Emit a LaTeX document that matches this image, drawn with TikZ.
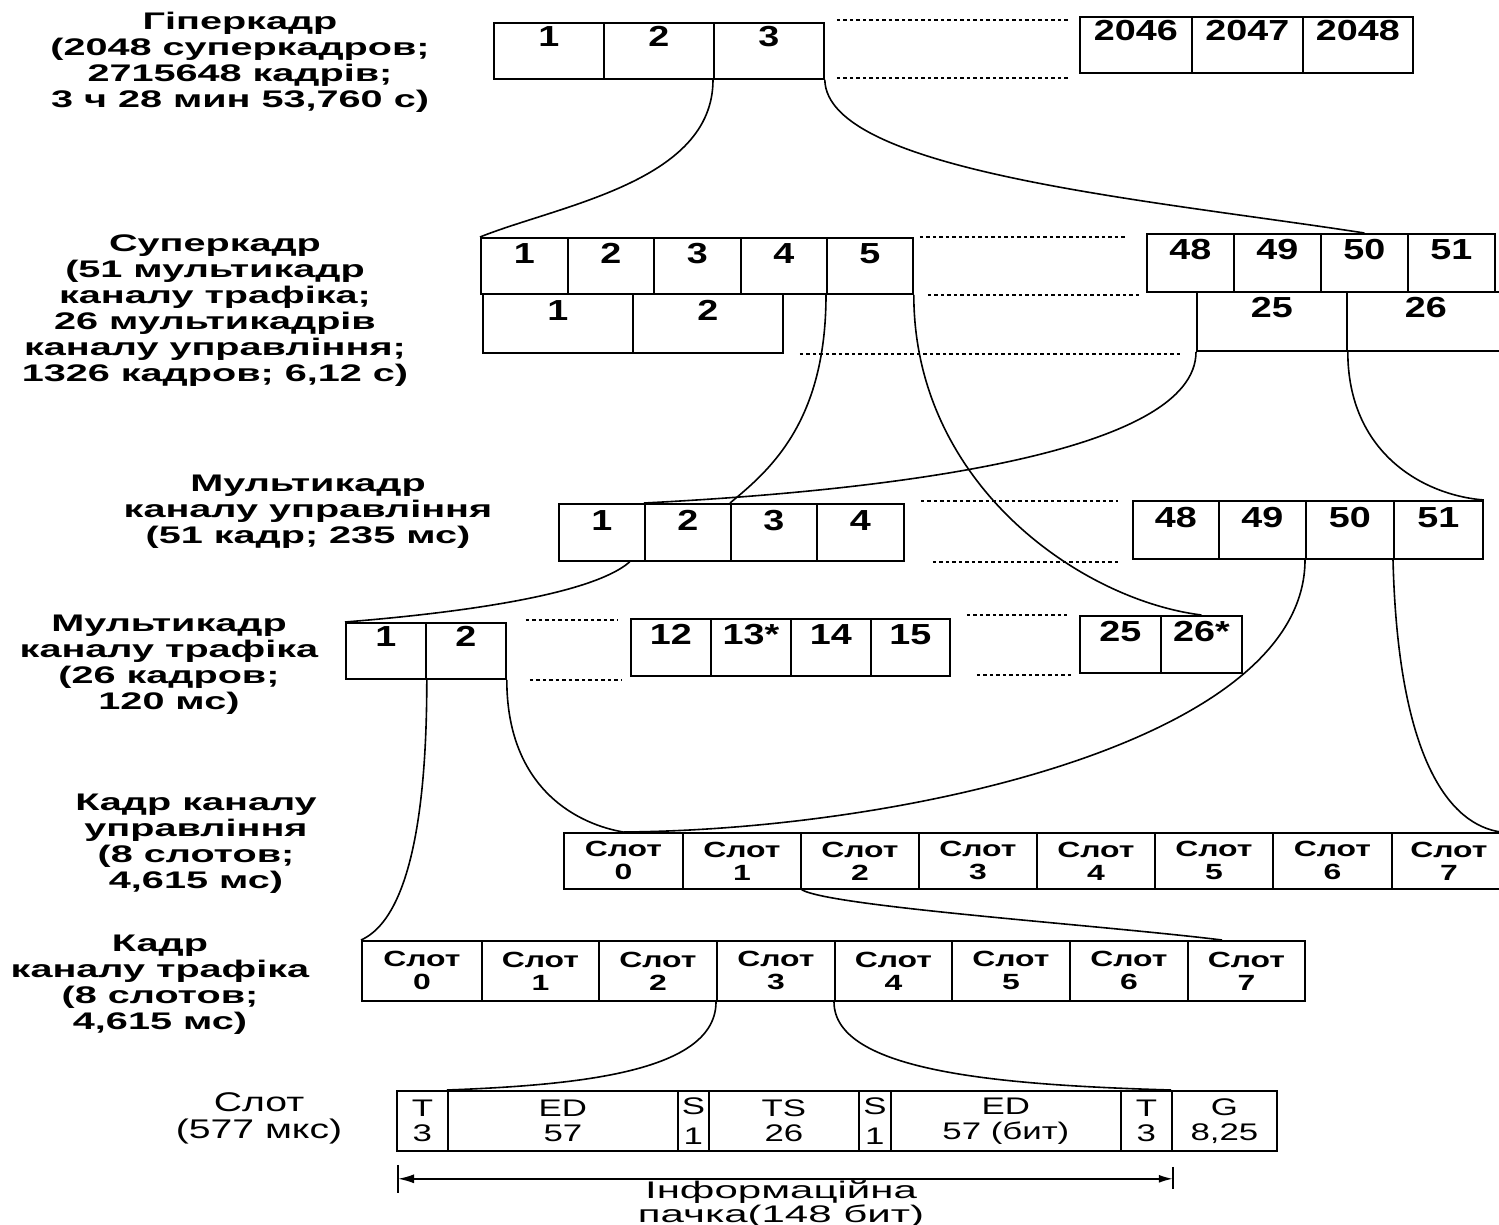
\documentclass[tikz,border=0pt]{standalone}
\usepackage{fontspec}
\setmainfont{Liberation Sans}
\newfontfamily\widebold[FakeStretch=1.65]{Liberation Sans Bold}
\newfontfamily\digbold[FakeStretch=1.3]{Liberation Sans Bold}
\newfontfamily\slotbold[FakeStretch=1.45]{Liberation Sans Bold}
\newfontfamily\fieldreg[FakeStretch=1.45]{Liberation Sans}
\newfontfamily\labreg[FakeStretch=1.45]{Liberation Sans}
\newfontfamily\inforeg[FakeStretch=1.75]{Liberation Sans}
\usetikzlibrary{calc,arrows.meta}
\begin{document}
\begin{tikzpicture}[x=1pt,y=-1pt,
  lbl/.style={align=center, font=\widebold\fontsize{24}{26}\selectfont, inner sep=0pt},
  nlbl/.style={align=center, font=\labreg\fontsize{27}{27}\selectfont, inner sep=0pt},
  ilbl/.style={align=center, font=\inforeg\fontsize{24}{24}\selectfont, inner sep=0pt},
  cell/.style={draw, line width=1.8pt, inner sep=0pt, anchor=north west,
    font=\digbold\fontsize{29}{29}\selectfont, text height=16pt},
  slotc/.style={draw, line width=1.8pt, inner sep=0pt, anchor=north west, align=center,
    font=\slotbold\fontsize{22}{23}\selectfont},
  fieldc/.style={draw, line width=1.8pt, inner sep=0pt, anchor=north west, align=center,
    font=\fieldreg\fontsize{24}{25}\selectfont},
  dots/.style={line width=2.4pt, dash pattern=on 3.5pt off 3pt},
  conn/.style={line width=1.6pt},
]
\useasboundingbox (0,0) rectangle (1499,1225);
\fill[white] (0,0) rectangle (1499,1225);

% ---------- labels ----------
\node[lbl] (Lh) at (240,62) {Гіперкадр\\(2048 суперкадров;\\2715648 кадрів;\\3 ч 28 мин 53,760 с)};
\node[lbl] (Ls) at (215,311) {Суперкадр\\(51 мультикадр\\каналу трафіка;\\26 мультикадрів\\каналу управління;\\1326 кадров; 6,12 с)};
\node[lbl] (Lcm) at (308,512) {Мультикадр\\каналу управління\\(51 кадр; 235 мс)};
\node[lbl] (Ltm) at (169,665) {Мультикадр\\каналу трафіка\\(26 кадров;\\120 мс)};
\node[lbl] (Lcf) at (196,844) {Кадр каналу\\управління\\(8 слотов;\\4,615 мс)};
\node[lbl] (Ltf) at (160,985) {Кадр\\каналу трафіка\\(8 слотов;\\4,615 мс)};
\node[nlbl] (Lsl) at (259,1118) {Слот\\(577 мкс)};
\node[ilbl, anchor=north] (Linfo) at (781,1180) {Інформаційна\\пачка(148 бит)};

% ---------- hyperframe ----------
\foreach \xa/\xb/\lab/\nm in {493/603/1/h1,603/713/2/h2,713/823/3/h3}
  \node[cell, minimum width={\xb-\xa}, minimum height=56, text depth=24pt] (\nm) at (\xa,22) {\lab};
\foreach \xa/\xb/\lab/\nm in {1079/1191/2046/h46,1191/1302/2047/h47,1302/1412/2048/h48}
  \node[cell, minimum width={\xb-\xa}, minimum height=56, text depth=24pt] (\nm) at (\xa,16) {\lab};
\draw[dots] ([xshift=12,yshift=2]h3.north east) -- ([xshift=-9,yshift=2]h3.north east -| h46.west);
\draw[dots] ([xshift=12,yshift=2]h3.south east) -- ([xshift=-9,yshift=2]h3.south east -| h46.west);

% ---------- superframe ----------
\foreach \xa/\xb/\lab/\nm in {480/567/1/s1,567/653/2/s2,653/740/3/s3,740/826/4/s4,826/912/5/s5}
  \node[cell, minimum width={\xb-\xa}, minimum height=56, text depth=20pt] (\nm) at (\xa,237) {\lab};
\foreach \xa/\xb/\lab/\nm in {482/632/1/m1,632/782/2/m2}
  \node[cell, minimum width={\xb-\xa}, minimum height=59, text depth=21pt] (\nm) at (\xa,293) {\lab};
\foreach \xa/\xb/\lab/\nm in {1146/1233/48/s48,1233/1320/49/s49,1320/1407/50/s50,1407/1494/51/s51}
  \node[cell, minimum width={\xb-\xa}, minimum height=58, text depth=22pt] (\nm) at (\xa,233) {\lab};
\foreach \xa/\xb/\lab/\nm in {1196/1346/25/m25,1346/1504/26/m26}
  \node[cell, minimum width={\xb-\xa}, minimum height=59, text depth=23pt] (\nm) at (\xa,291) {\lab};
\draw[dots] ([xshift=6]s5.north east) -- ([xshift=-21]s5.north east -| s48.west);
\draw[dots] ([xshift=14]s5.south east) -- ([xshift=-4]s5.south east -| s48.west);
\draw[dots] ([xshift=16]m2.south east) -- ([xshift=-14]m2.south east -| m25.west);

% ---------- control multiframe ----------
\foreach \xa/\xb/\lab/\nm in {558/644/1/c1,644/730/2/c2,730/816/3/c3,816/903/4/c4}
  \node[cell, minimum width={\xb-\xa}, minimum height=57, text depth=19pt] (\nm) at (\xa,503) {\lab};
\foreach \xa/\xb/\lab/\nm in {1132/1218/48/c48,1218/1305/49/c49,1305/1393/50/c50,1393/1482/51/c51}
  \node[cell, minimum width={\xb-\xa}, minimum height=58, text depth=20pt] (\nm) at (\xa,500) {\lab};
\draw[dots] ([xshift=16,yshift=2]c4.north east) -- ([xshift=-14,yshift=2]c4.north east -| c48.west);
\draw[dots] ([xshift=28]c4.south east) -- ([xshift=-11]c4.south east -| c48.west);

% ---------- traffic multiframe ----------
\foreach \xa/\xb/\lab/\nm in {345/425/1/t1,425/505/2/t2}
  \node[cell, minimum width={\xb-\xa}, minimum height=56, text depth=24pt] (\nm) at (\xa,622) {\lab};
\foreach \xa/\xb/\lab/\nm in {630/710/12/t12,710/790/13*/t13,790/870/14/t14,870/949/15/t15}
  \node[cell, minimum width={\xb-\xa}, minimum height=57, text depth=21pt] (\nm) at (\xa,618) {\lab};
\foreach \xa/\xb/\lab/\nm in {1079/1160/25/t25,1160/1241/26*/t26}
  \node[cell, minimum width={\xb-\xa}, minimum height=57, text depth=21pt] (\nm) at (\xa,615) {\lab};
\draw[dots] ([xshift=19,yshift=2]t2.north east) -- ([xshift=-13,yshift=2]t2.north east -| t12.west);
\draw[dots] ([xshift=23]t2.south east) -- ([xshift=-9]t2.south east -| t12.west);
\draw[dots] ([xshift=16,yshift=3]t15.north east) -- ([xshift=-12,yshift=3]t15.north east -| t25.west);
\draw[dots] ([xshift=26,yshift=2]t15.south east) -- ([xshift=-7,yshift=2]t15.south east -| t25.west);

% ---------- control frame ----------
\foreach \xa/\xb/\lab/\nm in {563/682/0/f0,682/800/1/f1,800/918/2/f2,918/1036/3/f3,1036/1154/4/f4,1154/1272/5/f5,1272/1391/6/f6,1391/1505/7/f7}
  \node[slotc, minimum width={\xb-\xa}, minimum height=56] (\nm) at (\xa,832) {Слот\\\lab};

% ---------- traffic frame ----------
\foreach \xa/\xb/\lab/\nm in {361/481/0/g0,481/598/1/g1,598/716/2/g2,716/834/3/g3,834/951/4/g4,951/1069/5/g5,1069/1187/6/g6,1187/1304/7/g7}
  \node[slotc, minimum width={\xb-\xa}, minimum height=60] (\nm) at (\xa,940) {Слот\\\lab};

% ---------- slot ----------
\foreach \xa/\xb/\lab/\nm in {396/447/{T\\3}/b0,447/677/{ED\\57}/b1,677/708/{S\\[5pt]1}/b2,708/858/{TS\\26}/b3,858/890/{S\\[5pt]1}/b4,890/1120/{ED\\57 (бит)}/b5,1120/1171/{T\\3}/b6,1171/1276/{G\\8,25}/b7}
  \node[fieldc, minimum width={\xb-\xa}, minimum height=60] (\nm) at (\xa,1090) {\lab};

% burst arrow
\coordinate (al) at ([xshift=2,yshift=-27]b0.south west);
\coordinate (ar) at ([yshift=-27]b6.south east);
\draw[line width=1.6pt, {Latex[length=16pt,width=9pt]}-{Latex[length=14pt,width=8pt]}] (al) -- (ar);
\draw[line width=1.4pt] ([yshift=14]al) -- ([yshift=-14]al);
\draw[line width=1.4pt] ([yshift=12]ar) -- ([yshift=-10]ar);

% ---------- connectors ----------
\draw[conn] (h3.south west) .. controls +(0,102) and +(80,-32) .. (s1.north west);
\draw[conn] (h3.south east) .. controls +(2,92) and +(-213,-33) .. (s50.north);
\draw[conn] (s5.south west) .. controls +(0,127) and +(40,-33) .. (c3.north west);
\draw[conn] (s5.south east) .. controls +(0,190) and +(-120,-15) .. (t26.north);
\draw[conn] (m25.south west) .. controls +(0,100) and +(256,-13) .. (c2.north west);
\draw[conn] (m25.south east) .. controls +(0,100) and +(-62,-5) .. (c51.north east);
\draw[conn] ([xshift=-16]c1.south east) .. controls +(-40,35) and +(100,-8) .. (t1.north west);
\draw[conn] (c50.south west) .. controls +(0,182) and +(278,-2) .. (f0.north);
\draw[conn] (c51.south west) .. controls +(5,202) and +(-50,-7) .. ([xshift=-6]f7.north east);
\draw[conn] (t1.south east) .. controls +(0,182) and +(34,-15) .. (g0.north west);
\draw[conn] (t2.south east) .. controls +(0,112) and +(-42,-7) .. (f0.north);
\draw[conn] (f1.south east) .. controls +(30,17) and +(-122,-15) .. ([xshift=35]g7.north west);
\draw[conn] (g3.south west) .. controls +(0,70) and +(133,-5) .. (b1.north west);
\draw[conn] (g4.south west) .. controls +(0,70) and +(-171,-5) .. (b7.north west);
\end{tikzpicture}
\end{document}
